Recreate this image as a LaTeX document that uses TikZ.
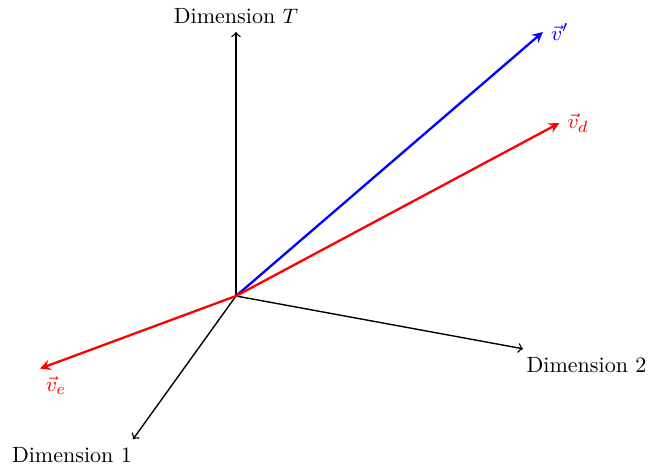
\documentclass[tikz,border=0pt]{standalone}
\usepackage{tikz}
\usepackage{amsmath}
\usetikzlibrary{arrows}

\begin{document}
\begin{tikzpicture}[axis/.style={->, semithick},
        vec/.style={-stealth, line width=1pt},
        every node/.style={font=\fontsize{9.5}{11}\selectfont}]
        \useasboundingbox (-3.576,-2.561) rectangle (6.258,4.485);
        \coordinate (O) at (0,0);
        \coordinate (T) at (0,4);
        \coordinate (D2) at (4.35,-0.8);
        \coordinate (D1) at (-1.56,-2.17);
        \coordinate (vp) at (4.65,4);
        \coordinate (vd) at (4.9,2.62);
        \coordinate (ve) at (-2.97,-1.1);
        \node[above] (labT) at (T) {Dimension $T$};
        \node[below right, xshift=-2pt] (lab2) at (D2) {Dimension 2};
        \node[below left, xshift=3pt] (lab1) at (D1) {Dimension 1};
        \node[right, blue] (labvp) at (vp) {$\vec{v}'$};
        \node[right, red] (labvd) at (vd) {$\vec{v}_d$};
        \node[below right, red, xshift=-1pt] (labve) at (ve) {$\vec{v}_e$};
        \draw[axis] (O)--(T);
        \draw[axis] (O)--(D2);
        \draw[axis] (O)--(D1);
        \draw[vec, blue] (O)--(vp);
        \draw[vec, red] (O)--(vd);
        \draw[vec, red] (O)--(ve);
      \end{tikzpicture}
\end{document}
